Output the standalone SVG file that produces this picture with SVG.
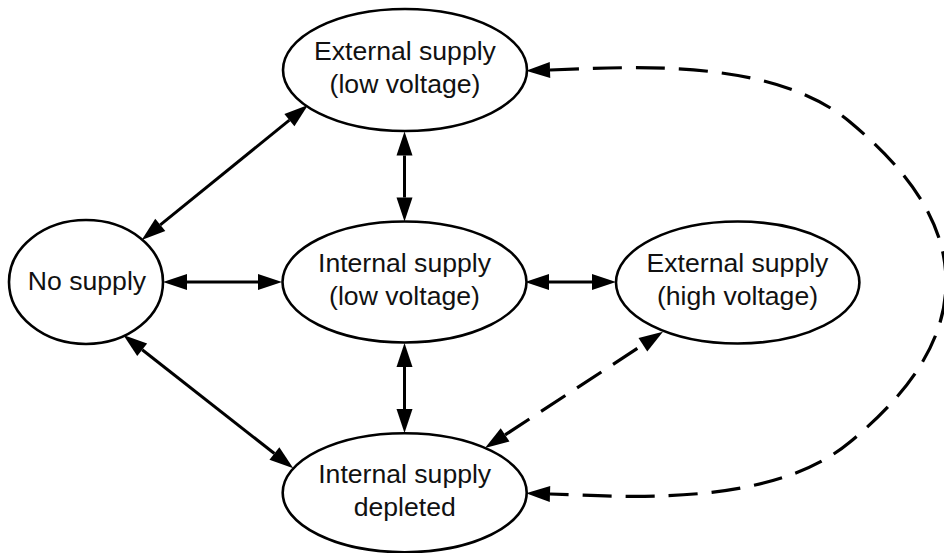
<svg xmlns="http://www.w3.org/2000/svg" width="944" height="553" viewBox="0 0 944 553">
<style>
.node ellipse{fill:#fff;stroke:#000;stroke-width:2.6}
.node text{font-family:"Liberation Sans",Arial,sans-serif;font-size:26.6px;fill:#111;text-anchor:middle}
.edge{fill:none;stroke:#000;stroke-width:3}
.dash{fill:none;stroke:#000;stroke-width:3.2;stroke-dasharray:29 14}
</style>
<defs>
<marker id="aEnd" markerUnits="userSpaceOnUse" markerWidth="24" markerHeight="16" refX="0" refY="8" orient="auto" overflow="visible"><path d="M0,0 L24,8 L0,16 z" fill="#000"/></marker>
<marker id="aStart" markerUnits="userSpaceOnUse" markerWidth="24" markerHeight="16" refX="24" refY="8" orient="auto" overflow="visible"><path d="M24,0 L0,8 L24,16 z" fill="#000"/></marker>
</defs>
<rect width="944" height="553" fill="#fff"/>
<g id="connectors">
<path class="edge" d="M160.3,224.9 L289.4,120.1" marker-start="url(#aStart)" marker-end="url(#aEnd)"/>
<path class="edge" d="M187,282 L258,282" marker-start="url(#aStart)" marker-end="url(#aEnd)"/>
<path class="edge" d="M404.5,155.5 L404.5,197.5" marker-start="url(#aStart)" marker-end="url(#aEnd)"/>
<path class="edge" d="M549,282 L592,282" marker-start="url(#aStart)" marker-end="url(#aEnd)"/>
<path class="edge" d="M404.5,367 L404.5,409" marker-start="url(#aStart)" marker-end="url(#aEnd)"/>
<path class="edge" d="M142.2,349.8 L274.4,453.5" marker-start="url(#aStart)" marker-end="url(#aEnd)"/>
<path class="dash" d="M505.1,434.9 L642.9,344.8" marker-start="url(#aStart)" marker-end="url(#aEnd)"/>
<path class="dash" d="M550,70 C620,68 770,55 850,122 C898,162 946,215 946,282 C946,349 898,402 850,442 C770,509 620,496 550,494" marker-start="url(#aStart)" marker-end="url(#aEnd)"/>
</g>
<g id="ext-low" class="node"><ellipse cx="405" cy="70" rx="122" ry="61"/><text x="405" y="59.5">External supply</text><text x="405" y="92.5">(low voltage)</text></g>
<g id="no-supply" class="node"><ellipse cx="86" cy="282" rx="77" ry="62"/><text x="87" y="290">No supply</text></g>
<g id="int-low" class="node"><ellipse cx="404.5" cy="282" rx="122" ry="60.5"/><text x="404.5" y="272">Internal supply</text><text x="404.5" y="305">(low voltage)</text></g>
<g id="ext-high" class="node"><ellipse cx="737.7" cy="282.5" rx="121.7" ry="61"/><text x="737.5" y="272">External supply</text><text x="737.5" y="305">(high voltage)</text></g>
<g id="int-depleted" class="node"><ellipse cx="404.7" cy="492.7" rx="122" ry="59.5"/><text x="404.7" y="483">Internal supply</text><text x="404.7" y="515.5">depleted</text></g>
</svg>
